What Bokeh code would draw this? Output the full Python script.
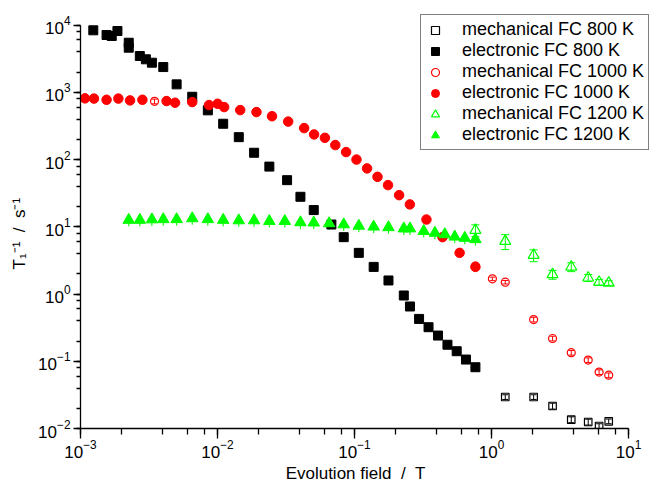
from bokeh.plotting import figure
from bokeh.models import ColumnDataSource, Legend, LegendItem, Whisker, TeeHead, LogTicker
from bokeh.embed import file_html
from bokeh.resources import INLINE

# ---- data ----
elec800_x = [1.24e-3, 1.55e-3, 1.69e-3, 1.86e-3, 2.25e-3, 2.25e-3, 2.71e-3, 3.00e-3, 3.32e-3, 4.02e-3,
             5.03e-3, 6.54e-3, 8.50e-3, 0.0110, 0.0143, 0.0185, 0.0239, 0.0322, 0.0403, 0.0504,
             0.0678, 0.0834, 0.1075, 0.138, 0.177, 0.229, 0.254, 0.296, 0.347, 0.407,
             0.477, 0.557, 0.651, 0.763]
elec800_y = [8340, 7100, 6860, 8140, 5450, 4600, 3460, 3090, 2750, 2370,
             1310, 857, 538, 340, 215, 126, 78.4, 49.3, 27.9, 17.7,
             10.8, 7.0, 4.09, 2.53, 1.59, 0.950, 0.652, 0.426, 0.321, 0.241,
             0.176, 0.141, 0.106, 0.0815]

mech800_x = [1.26, 2.03, 2.79, 3.82, 5.08, 6.1, 7.17]
mech800_y = [0.0294, 0.0294, 0.0216, 0.01355, 0.0125, 0.0109, 0.0128]
mech800_err = [0.08, 0.08, 0.1, 0.1, 0.1, 0.08, 0.08]

elec1000_x = [1.078e-3, 1.254e-3, 1.55e-3, 1.89e-3, 2.30e-3, 2.83e-3, 4.25e-3, 4.90e-3, 6.54e-3, 8.67e-3,
              0.01002, 0.01118, 0.01465, 0.01925, 0.0250, 0.0328, 0.0429, 0.0507, 0.0608, 0.0724,
              0.0868, 0.1034, 0.1235, 0.1472, 0.1756, 0.2117, 0.2535, 0.335, 0.439, 0.585, 0.763]
elec1000_y = [811, 805, 773, 805, 757, 773, 740, 698, 715, 645,
              674, 602, 543, 507, 440, 366, 293, 236, 210, 164,
              129, 99.7, 73.7, 55.3, 41.6, 29.5, 21.5, 12.8, 7.0, 4.09, 2.53]

mech1000_x = [3.47e-3, 0.1472, 0.763, 1.015, 1.26, 2.03, 2.79, 3.82, 5.08, 6.1, 7.17]
mech1000_y = [732, 55.3, 2.6, 1.68, 1.50, 0.417, 0.218, 0.134, 0.104, 0.069, 0.062]
mech1000_err = [0.08, 0.08, 0.08, 0.06, 0.06, 0.08, 0.08, 0.08, 0.08, 0.08, 0.08]

elec1200_x = [2.25e-3, 2.71e-3, 3.32e-3, 4.02e-3, 5.03e-3, 6.54e-3, 8.50e-3, 0.0110, 0.0143, 0.0185,
              0.0239, 0.0310, 0.0403, 0.0504, 0.0653, 0.0834, 0.1075, 0.138, 0.177, 0.229,
              0.254, 0.320, 0.386, 0.456, 0.539, 0.638, 0.763]
elec1200_y = [12.6, 12.6, 12.8, 12.9, 12.9, 13.3, 12.9, 12.6, 12.4, 12.4,
              12.1, 12.1, 11.6, 11.5, 11.2, 10.8, 10.3, 10.0, 9.8, 9.4,
              9.4, 8.6, 8.1, 7.7, 7.1, 6.8, 6.5]
elec1200_err = [0.18] * 27

mech1200_x = [0.763, 1.26, 2.03, 2.79, 3.82, 5.08, 6.1, 7.17]
mech1200_y = [8.9, 6.1, 3.78, 1.95, 2.53, 1.74, 1.50, 1.46]
mech1200_err = [0.20, 0.25, 0.20, 0.15, 0.15, 0.12, 0.10, 0.08]

labels = ["mechanical FC 800 K", "electronic FC 800 K",
          "mechanical FC 1000 K", "electronic FC 1000 K",
          "mechanical FC 1200 K", "electronic FC 1200 K"]

# drawn axes span 1e-3..10 and 1e-2..1e4; the plot area is a little larger so
# that the legend box (which pokes out beyond the axes) is not clipped
X_AXIS = (1e-3, 10)
Y_AXIS = (1e-2, 1e4)
X_VIEW = (1e-3, 14.23)
Y_VIEW = (1e-2, 16430)

FONT = "Liberation Sans"
BLACK, RED, GREEN = "#000000", "#FF0000", "#00FF00"
NB = "\u00a0"


def src(x, y, err=None):
    d = dict(x=x, y=y)
    if err is not None:
        d["lower"] = [v * (1 - e) for v, e in zip(y, err)]
        d["upper"] = [v * (1 + e) for v, e in zip(y, err)]
    return ColumnDataSource(d)


p = figure(x_axis_type="log", y_axis_type="log",
           x_range=X_VIEW, y_range=Y_VIEW,
           frame_width=569, frame_height=418,
           min_border_left=80, min_border_right=0, min_border_top=10, min_border_bottom=44,
           output_backend="svg", toolbar_location=None)

p.grid.visible = False
p.outline_line_color = None
p.background_fill_color = "white"
p.border_fill_color = "white"

for ax in (p.xaxis[0], p.yaxis[0]):
    ax.axis_line_width = 1.3
    ax.major_tick_line_width = 1.3
    ax.minor_tick_line_width = 1.3
    ax.major_tick_in = 0
    ax.minor_tick_in = 0
    ax.major_label_text_font = FONT
    ax.major_label_text_font_size = "17px"
    ax.major_label_text_color = "black"
    ax.axis_label_text_font = FONT
    ax.axis_label_text_font_size = "17px"
    ax.axis_label_text_font_style = "normal"
    ax.axis_label_text_color = "black"

xa, ya = p.xaxis[0], p.yaxis[0]
xa.major_tick_out = 10
xa.minor_tick_out = 6
ya.major_tick_out = 7
ya.minor_tick_out = 4
xa.major_label_standoff = 1
ya.major_label_standoff = 3

xa.bounds = X_AXIS
ya.bounds = Y_AXIS
xa.ticker = LogTicker(desired_num_ticks=5, mantissas=[1])
ya.ticker = LogTicker(desired_num_ticks=7, mantissas=[1])
# trailing no-break spaces re-centre the titles under the drawn (shorter) axes
xa.axis_label = "Evolution field" + NB + NB + "/" + NB + NB + "T" + NB * 4
ya.axis_label = "T\u2081\u207b\u00b9" + NB + NB + "/" + NB + NB + "s\u207b\u00b9" + NB * 6
xa.axis_label_standoff = 3
ya.axis_label_standoff = 6


def whisk(source, color, cap):
    w = Whisker(source=source, base="x", lower="lower", upper="upper",
                line_color=color, line_width=1)
    w.upper_head = TeeHead(size=cap, line_color=color, line_width=1)
    w.lower_head = TeeHead(size=cap, line_color=color, line_width=1)
    p.add_layout(w)


s_m800 = src(mech800_x, mech800_y, mech800_err)
s_e800 = src(elec800_x, elec800_y)
s_m1000 = src(mech1000_x, mech1000_y, mech1000_err)
s_e1000 = src(elec1000_x, elec1000_y)
s_m1200 = src(mech1200_x, mech1200_y, mech1200_err)
s_e1200 = src(elec1200_x, elec1200_y, elec1200_err)

whisk(s_m800, BLACK, 6)
whisk(s_m1000, RED, 6)
whisk(s_e1200, GREEN, 1)
whisk(s_m1200, GREEN, 8)

r_m800 = p.scatter("x", "y", source=s_m800, marker="square", size=7.5,
                   fill_color="white", fill_alpha=0, line_color=BLACK, line_width=1.2)
r_e800 = p.scatter("x", "y", source=s_e800, marker="square", size=9,
                   fill_color=BLACK, line_color=BLACK)
r_m1000 = p.scatter("x", "y", source=s_m1000, marker="circle", size=8,
                    fill_color="white", fill_alpha=0, line_color=RED, line_width=1.2)
r_e1000 = p.scatter("x", "y", source=s_e1000, marker="circle", size=9.5,
                    fill_color=RED, line_color=RED)
r_m1200 = p.scatter("x", "y", source=s_m1200, marker="triangle", size=11,
                    fill_color="white", fill_alpha=0, line_color=GREEN, line_width=1.2)
r_e1200 = p.scatter("x", "y", source=s_e1200, marker="triangle", size=11.5,
                    fill_color=GREEN, line_color=GREEN)

items = [LegendItem(label=lab, renderers=[r]) for lab, r in
         zip(labels, [r_m800, r_e800, r_m1000, r_e1000, r_m1200, r_e1200])]
legend = Legend(items=items, location=(340, 278),
                label_text_font=FONT, label_text_font_size="18px", label_text_color="black",
                glyph_height=20, glyph_width=20, label_height=20, label_width=182,
                label_standoff=17, spacing=0, padding=4, margin=0,
                border_line_color="black", border_line_width=1,
                background_fill_color="white", background_fill_alpha=1)
p.add_layout(legend, "center")

open("out.html", "w").write(file_html(p, INLINE))
